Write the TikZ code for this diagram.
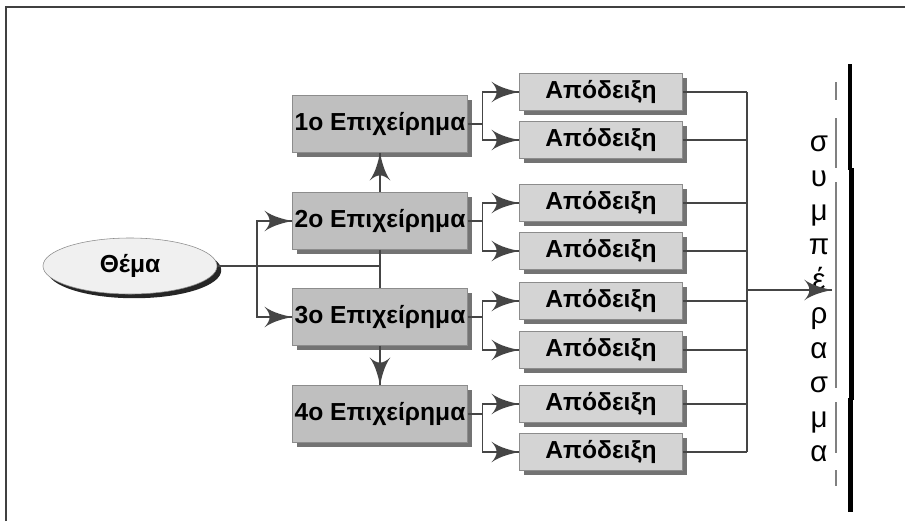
\documentclass[tikz,border=0pt]{standalone}
\usepackage{fontspec}
\setmainfont{Liberation Sans}
\usepackage{tikz}
\usetikzlibrary{arrows}
\usetikzlibrary{decorations.markings}
\usetikzlibrary{shapes.geometric}
\usetikzlibrary{shadows}
\definecolor{mdark}{rgb}{0.27, 0.27, 0.27}
\definecolor{mborder}{rgb}{0.55, 0.55, 0.55}
\definecolor{mshade}{rgb}{0.45, 0.45, 0.45}
\definecolor{margfill}{rgb}{0.75, 0.75, 0.75}
\definecolor{mprooffill}{rgb}{0.83, 0.83, 0.83}
\definecolor{mlight}{rgb}{0.94, 0.94, 0.94}
\tikzset{arrowto/.style = {decoration={markings,
                                      mark=at position 1 with {\arrow[scale=3.6]{latex'}}},
                          postaction={decorate}}}
\tikzset{wire/.style = {mdark, line width = 0.9pt}}
\tikzset{argbox/.style = {draw = mborder, fill = margfill, inner sep = 0,
                          minimum width = 4.375cm, minimum height = 1.425cm,
                          font = \fontsize{17.5}{20}\selectfont\bfseries,
                          drop shadow = {shadow xshift = 3pt, shadow yshift = -3pt, fill = mshade, opacity = 1}}}
\tikzset{proofbox/.style = {argbox, fill = mprooffill,
                            minimum width = 4.075cm, minimum height = 0.925cm}}

\begin{document}
\begin{tikzpicture}[x = 0.025cm, y = -0.025cm]
      \useasboundingbox (0, 0) rectangle (905, 521);
      \draw [black!75, line width = 1pt] (6, 521) -- (6, 7) -- (905, 7);

      \node [ellipse, draw = mborder, fill = mlight, minimum width = 4.35cm, minimum height = 1.4cm,
             font = \fontsize{17.5}{20}\selectfont\bfseries,
             drop shadow = {shadow xshift = 3pt, shadow yshift = -3pt, fill = black!85, opacity = 1}]
            (theme) at (130, 266) {Θέμα};

      \node [argbox] (arg1) at (380, 124) {1ο Επιχείρημα};
      \node [argbox] (arg2) at (380, 221) {2ο Επιχείρημα};
      \node [argbox] (arg3) at (380, 317) {3ο Επιχείρημα};
      \node [argbox] (arg4) at (380, 414) {4ο Επιχείρημα};

      \node [proofbox] (p1) at (601, 92) {Απόδειξη};
      \node [proofbox] (p2) at (601, 140) {Απόδειξη};
      \node [proofbox] (p3) at (601, 203) {Απόδειξη};
      \node [proofbox] (p4) at (601, 251) {Απόδειξη};
      \node [proofbox] (p5) at (601, 301) {Απόδειξη};
      \node [proofbox] (p6) at (601, 350) {Απόδειξη};
      \node [proofbox] (p7) at (601, 404) {Απόδειξη};
      \node [proofbox] (p8) at (601, 452) {Απόδειξη};

      \node [font = \fontsize{21}{24.5}\selectfont, align = center] (concl) at (819, 299)
            {σ\\υ\\μ\\π\\έ\\ρ\\α\\σ\\μ\\α};

      \coordinate (fork) at (257, 266);
      \coordinate (collect) at (747, 290);
      \coordinate (bar) at (832, 290);

      \draw [wire] (theme.east) -- (theme.east -| arg2.south);
      \draw [wire] (arg2.south) -- (arg3.north);
      \draw [wire, arrowto] (arg2.north) -- (arg1.south);
      \draw [wire, arrowto] (arg3.south) -- (arg4.north);
      \draw [wire, arrowto] (fork) |- (arg2.west);
      \draw [wire, arrowto] (fork) |- (arg3.west);

      \foreach \a/\p in {1/1, 1/2, 2/3, 2/4, 3/5, 3/6, 4/7, 4/8}
        \draw [wire, arrowto] (arg\a.east) -- ++(15, 0) |- (p\p.west);
      \foreach \p in {1, ..., 8}
        \draw [wire] (p\p.east) -- (p\p.east -| collect);
      \draw [wire] (p1.east -| collect) -- (p8.east -| collect);
      \draw [wire, arrowto] (collect) -- (bar);

      % the bar of the conclusion
      \foreach \t/\b in {82/100, 118/168, 182/388, 402/453, 470/486}
        \draw [gray, line width = 1.1pt] (836, \t) -- (836, \b);
      \draw [line width = 3pt] (850, 64) -- (850, 170);
      \draw [line width = 3.4pt] (851.5, 168) -- (851.5, 400);
      \draw [line width = 3pt] (850.5, 398) -- (850.5, 512);
    \end{tikzpicture}
\end{document}
